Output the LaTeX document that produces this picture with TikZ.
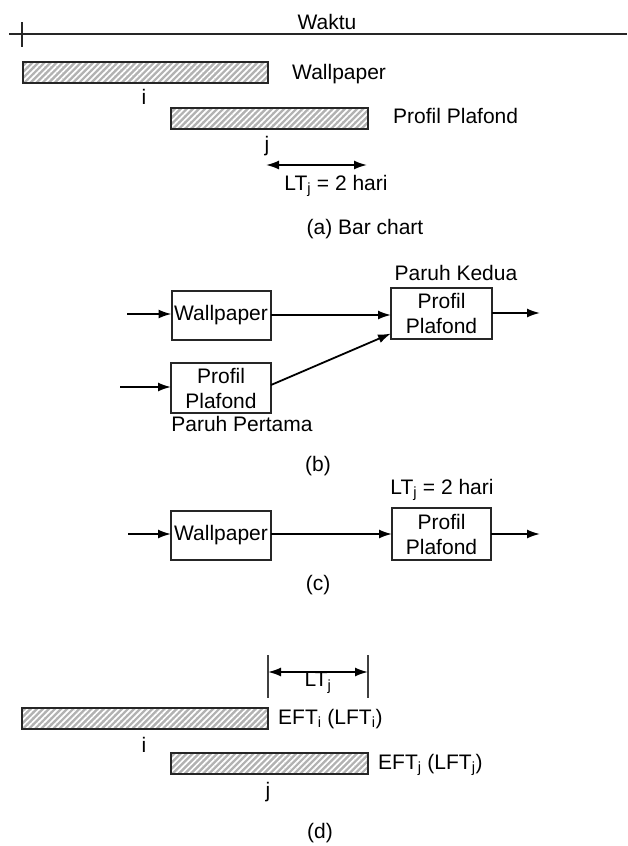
\documentclass[tikz,border=0pt]{standalone}
\usepackage{fontspec}
\setmainfont{Liberation Sans}
\usetikzlibrary{arrows.meta,patterns.meta}
\begin{document}
\begin{tikzpicture}[x=1pt,y=-1pt,
  txt/.style={font=\fontsize{21}{25}\selectfont, inner sep=0pt},
  bar/.style={draw=black!85, line width=1.8pt, minimum height=21pt, inner sep=0pt, outer sep=0pt,
    anchor=north west, preaction={fill=gray!60},
    pattern={Lines[angle=45,distance=4.3pt,line width=1.7pt]}, pattern color=white},
  actbox/.style={draw=black!85, line width=2pt, inner sep=0pt, outer sep=0pt, align=center,
    font=\fontsize{21}{25}\selectfont},
  arr/.style={line width=1.8pt, -{Latex[length=13pt,width=9pt]}},
  darr/.style={line width=1.8pt, {Latex[length=13pt,width=9pt]}-{Latex[length=13pt,width=9pt]}},
  thin/.style={line width=1.9pt}
]
\useasboundingbox (0,0) rectangle (627,846);

% ---------- (a) ----------
\coordinate (tlL) at (9,34);
\coordinate (tlR) at (627,34);
\coordinate (tkT) at (22,22);
\coordinate (tkB) at (22,47);
\draw[thin, black!85] (tlL) -- (tlR);
\draw[thin, black!85] (tkT) -- (tkB);
\node[txt] (waktu) at (327,22) {Waktu};

\node[bar, minimum width=245pt] (ba) at (23,62) {};
\node[bar, minimum width=197pt] (bb) at (171,108) {};
\node[txt, anchor=west] (lwa) at (292,74) {Wallpaper};
\node[txt, anchor=west] (lpa) at (393,116) {Profil Plafond};
\node[txt] (ia) at (144,97) {i};
\node[txt] (ja) at (267,146) {j};
\coordinate (da1) at (266,165);
\coordinate (da2) at (367,165);
\draw[darr] (da1) -- (da2);
\node[txt] (lta) at (336,186) {LT\textsubscript{j} = 2 hari};
\node[txt] (capa) at (365,229) {(a) Bar chart};

% ---------- (b) ----------
\node[actbox, minimum width=99pt, minimum height=49pt] (w1) at (221,315) {Wallpaper};
\node[actbox, minimum width=100pt, minimum height=50pt] (p1) at (221,388) {Profil\\Plafond};
\node[actbox, minimum width=101pt, minimum height=51pt] (p2) at (441.5,313.5) {Profil\\Plafond};
\coordinate (in1) at (127,314);
\coordinate (in2) at (120,387);
\coordinate (out2) at (540,313);
\draw[arr] (in1) -- (in1 -| w1.west);
\draw[arr] (in2) -- (in2 -| p1.west);
\draw[arr] (w1.east) -- (w1.east -| p2.west);
\draw[arr] ([yshift=3pt]p1.east) -- ([yshift=-20pt]p2.west);
\draw[arr] (p2.east |- out2) -- (out2);
\node[txt] (pk) at (456,273) {Paruh Kedua};
\node[txt] (pp) at (242,424) {Paruh Pertama};
\node[txt] (capb) at (318,466) {(b)};

% ---------- (c) ----------
\node[actbox, minimum width=100pt, minimum height=49pt] (w2) at (221,535.5) {Wallpaper};
\node[actbox, minimum width=99pt, minimum height=52pt] (p3) at (441.5,534) {Profil\\Plafond};
\coordinate (in3) at (128,534);
\coordinate (out3) at (540,534);
\draw[arr] (in3) -- (in3 -| w2.west);
\draw[arr] (w2.east |- in3) -- (in3 -| p3.west);
\draw[arr] (p3.east |- out3) -- (out3);
\node[txt] (ltc) at (442,490) {LT\textsubscript{j} = 2 hari};
\node[txt] (capc) at (318,585) {(c)};

% ---------- (d) ----------
\coordinate (v1t) at (268,655);
\coordinate (v1b) at (268,698);
\coordinate (v2t) at (368,655);
\coordinate (v2b) at (368,698);
\draw[thin, black!75] (v1t) -- (v1b);
\draw[thin, black!75] (v2t) -- (v2b);
\coordinate (dd1) at (268,672);
\coordinate (dd2) at (368,672);
\draw[darr] (dd1) -- (dd2);
\node[txt] (ltd) at (318,683) {LT\textsubscript{j}};
\node[bar, minimum width=246pt] (bi) at (22,708) {};
\node[bar, minimum width=197pt] (bj) at (171,753) {};
\node[txt, anchor=west] (efti) at (278,719) {EFT\textsubscript{i} (LFT\textsubscript{i})};
\node[txt, anchor=west] (eftj) at (378,765) {EFT\textsubscript{j} (LFT\textsubscript{j})};
\node[txt] (id) at (144,745) {i};
\node[txt] (jd) at (268,792) {j};
\node[txt] (capd) at (320,833) {(d)};
\end{tikzpicture}
\end{document}
